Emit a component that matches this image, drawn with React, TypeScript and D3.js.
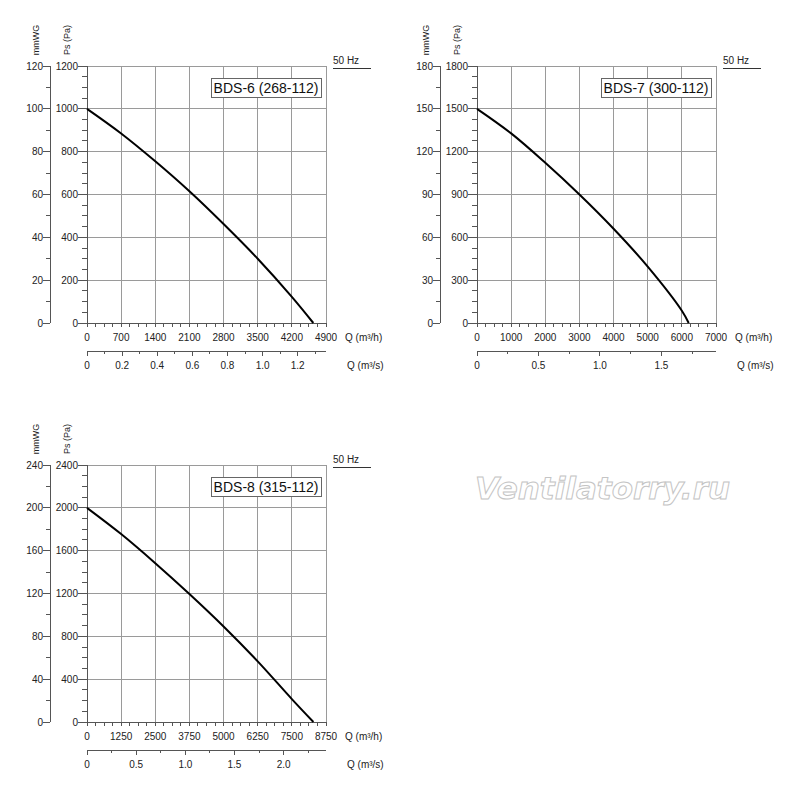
import * as d3 from 'd3'

// Fan curves: static pressure Ps (Pa) against air flow Q (m³/h), read from the sheet
const fanNames = ['BDS-6 (268-112)', 'BDS-7 (300-112)', 'BDS-8 (315-112)']
const qMax = [4900, 7000, 8750]
const qStep = [700, 1000, 1250]
const paMax = [1200, 1800, 2400]
const paStep = [200, 300, 400]
const mmStep = [20, 30, 40]
const qsLabelStep = [0.2, 0.5, 0.5]
const qsTickStep = [0.1, 0.25, 0.25]

const bds6Q = [0, 700, 1400, 2100, 2800, 3500, 4200, 4640]
const bds6Pa = [1000, 885, 755, 615, 462, 300, 122, 0]
const bds7Q = [0, 1000, 2000, 3000, 4000, 5000, 6000, 6200]
const bds7Pa = [1500, 1328, 1122, 900, 660, 395, 86, 0]
const bds8Q = [0, 1250, 2500, 3750, 5000, 6250, 7500, 8290]
const bds8Pa = [2000, 1755, 1483, 1195, 892, 566, 214, 0]

const curvesQ = [bds6Q, bds7Q, bds8Q]
const curvesPa = [bds6Pa, bds7Pa, bds8Pa]

const offsets: [number, number][] = [
  [0, 0],
  [390, 0],
  [0, 399],
]

const FONT = "'Liberation Sans', Arial, sans-serif"
const GRID = '#9a9a9a'
const AXIS = '#555'

// box of one chart, in its own coordinates
const L = 87
const R = 326
const T = 66
const B = 323
const MM_X = 50
const QS_Y = 351

function steps(max: number, step: number) {
  const n = Math.floor(max / step + 1e-6)
  return d3.range(0, n + 1).map((i) => +(i * step).toFixed(4))
}

function FanChart({ i }: { i: number }) {
  const [ox, oy] = offsets[i]
  const x = d3.scaleLinear([0, qMax[i]], [L, R])
  const y = d3.scaleLinear([0, paMax[i]], [B, T])
  const yMm = d3.scaleLinear([0, paMax[i] / 10], [B, T])
  const xs = d3.scaleLinear([0, qMax[i] / 3600], [L, R])

  const qMajor = steps(qMax[i], qStep[i])
  const qMinor = steps(qMax[i], qStep[i] / 4)
  const paMajor = steps(paMax[i], paStep[i])
  const paMinor = steps(paMax[i], paStep[i] / 4)
  const mmMajor = steps(paMax[i] / 10, mmStep[i])
  const mmMinor = steps(paMax[i] / 10, mmStep[i] / 2)
  const qsTicks = steps(qMax[i] / 3600, qsTickStep[i])
  const isLabel = (v: number) =>
    Math.abs(v / qsLabelStep[i] - Math.round(v / qsLabelStep[i])) < 1e-6

  const pts = curvesQ[i].map((q, k) => [q, curvesPa[i][k]] as [number, number])
  const line = d3
    .line<[number, number]>()
    .x((d) => x(d[0]))
    .y((d) => y(d[1]))
    .curve(d3.curveCatmullRom)

  return (
    <g transform={`translate(${ox},${oy})`} fontFamily={FONT} fill="#222">
      {/* grid */}
      {qMajor.slice(1).map((v) => (
        <line key={'gx' + v} x1={x(v)} x2={x(v)} y1={T} y2={B} stroke={GRID} shapeRendering="crispEdges" />
      ))}
      {paMajor.slice(1).map((v) => (
        <line key={'gy' + v} x1={L} x2={R} y1={y(v)} y2={y(v)} stroke={GRID} shapeRendering="crispEdges" />
      ))}

      {/* Pa axis */}
      <line x1={L} x2={L} y1={T} y2={B} stroke={AXIS} shapeRendering="crispEdges" />
      {paMinor.map((v) => (
        <line key={'pm' + v} x1={L - 5} x2={L} y1={y(v)} y2={y(v)} stroke={AXIS} shapeRendering="crispEdges" />
      ))}
      {paMajor.map((v) => (
        <g key={'pM' + v}>
          <line x1={L - 9} x2={L} y1={y(v)} y2={y(v)} stroke={AXIS} shapeRendering="crispEdges" />
          <text x={L - 9} y={y(v) + 3.5} fontSize={10} textAnchor="end">
            {v}
          </text>
        </g>
      ))}

      {/* mmWG axis */}
      <line x1={MM_X} x2={MM_X} y1={T} y2={B} stroke={AXIS} shapeRendering="crispEdges" />
      {mmMinor.map((v) => (
        <line key={'mm' + v} x1={MM_X - 4} x2={MM_X} y1={yMm(v)} y2={yMm(v)} stroke={AXIS} shapeRendering="crispEdges" />
      ))}
      {mmMajor.map((v) => (
        <g key={'mM' + v}>
          <line x1={MM_X - 7} x2={MM_X} y1={yMm(v)} y2={yMm(v)} stroke={AXIS} shapeRendering="crispEdges" />
          <text x={MM_X - 7} y={yMm(v) + 3.5} fontSize={10} textAnchor="end">
            {v}
          </text>
        </g>
      ))}

      <text transform="translate(36,40) rotate(-90)" fontSize={9} textAnchor="middle" dominantBaseline="central">
        mmWG
      </text>
      <text transform="translate(67,40) rotate(-90)" fontSize={9} textAnchor="middle" dominantBaseline="central">
        Ps (Pa)
      </text>

      {/* Q (m³/h) axis */}
      <line x1={L} x2={R} y1={B} y2={B} stroke={AXIS} shapeRendering="crispEdges" />
      {qMinor.map((v) => (
        <line key={'qm' + v} x1={x(v)} x2={x(v)} y1={B} y2={B + 4} stroke={AXIS} shapeRendering="crispEdges" />
      ))}
      {qMajor.map((v) => (
        <text key={'ql' + v} x={x(v)} y={B + 18} fontSize={10} textAnchor="middle">
          {v}
        </text>
      ))}
      <text x={R + 19} y={B + 18} fontSize={10}>
        Q (m³/h)
      </text>

      {/* Q (m³/s) axis */}
      <line x1={L} x2={R} y1={QS_Y} y2={QS_Y} stroke={AXIS} shapeRendering="crispEdges" />
      {qsTicks.map((v) => (
        <line
          key={'sm' + v}
          x1={xs(v)}
          x2={xs(v)}
          y1={QS_Y}
          y2={QS_Y + (isLabel(v) ? 5 : 3)}
          stroke={AXIS}
          shapeRendering="crispEdges"
        />
      ))}
      {qsTicks.filter(isLabel).map((v) => (
        <text key={'sl' + v} x={xs(v)} y={QS_Y + 18} fontSize={10} textAnchor="middle">
          {v === 0 ? '0' : v.toFixed(1)}
        </text>
      ))}
      <text x={R + 21} y={QS_Y + 18} fontSize={10}>
        Q (m³/s)
      </text>

      {/* 50 Hz */}
      <text x={R + 7} y={T - 2} fontSize={10}>
        50 Hz
      </text>
      <line x1={R + 7} x2={R + 45} y1={T + 2} y2={T + 2} stroke="#333" shapeRendering="crispEdges" />

      {/* curve */}
      <path d={line(pts) || undefined} fill="none" stroke="#000" strokeWidth={2} />

      {/* name box */}
      <rect x={R - 115} y={T + 12} width={110} height={19} fill="#fff" stroke="#666" shapeRendering="crispEdges" />
      <text x={R - 60} y={T + 27} fontSize={14} textAnchor="middle" fill="#111">
        {fanNames[i]}
      </text>
    </g>
  )
}

export default function App() {
  return (
    <svg width={800} height={789} style={{ position: 'absolute', left: 0, top: 0, background: '#fff' }}>
      <rect width={800} height={789} fill="#fff" />
      {fanNames.map((_, i) => (
        <FanChart key={i} i={i} />
      ))}
      <text
        x={475}
        y={499}
        fontFamily="'DejaVu Sans', sans-serif"
        fontSize={31}
        fontWeight="bold"
        fontStyle="italic"
        fill="#fff"
        stroke="#c4c4c4"
        strokeWidth={1}
      >
        Ventilatorry.ru
      </text>
    </svg>
  )
}
